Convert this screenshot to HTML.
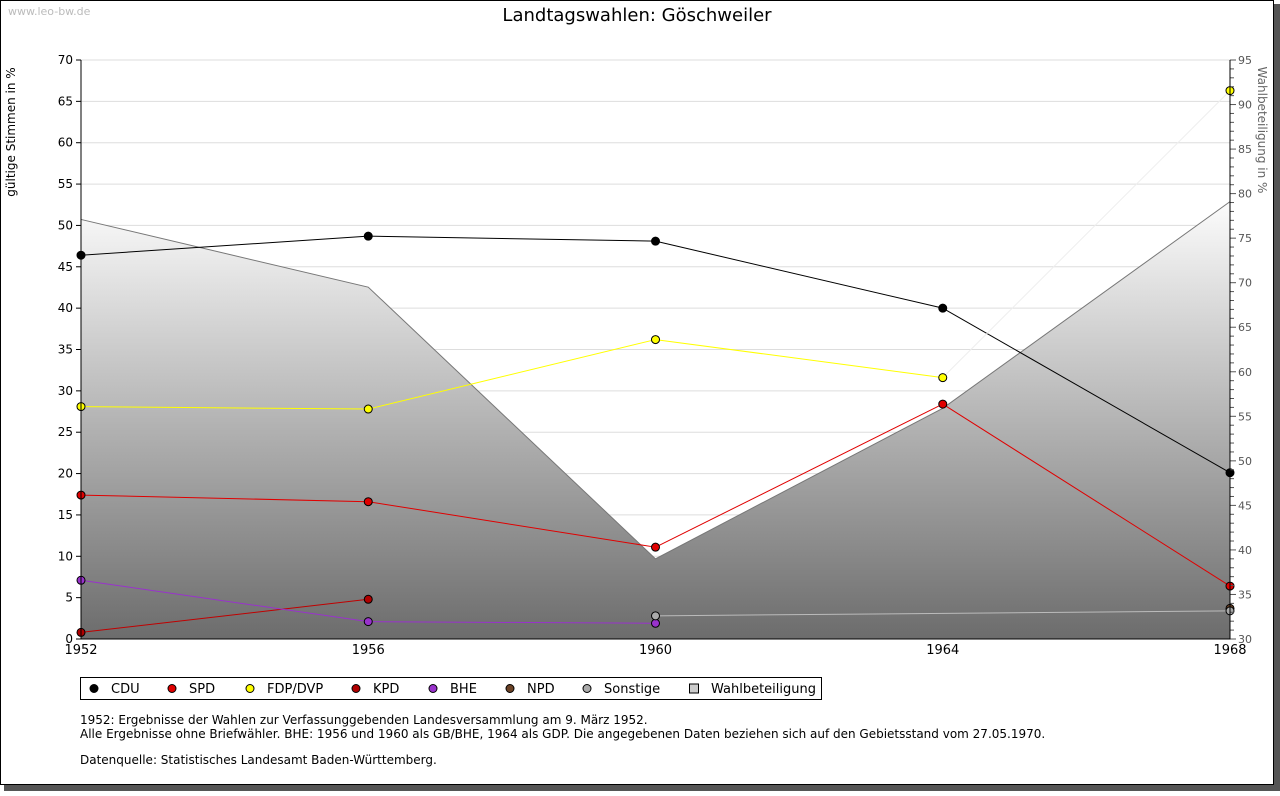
<!DOCTYPE html>
<html><head><meta charset="utf-8"><style>
body{margin:0;background:#fff;font-family:"Liberation Sans","DejaVu Sans",sans-serif}
svg text{font-family:"DejaVu Sans","Liberation Sans",sans-serif}
</style></head><body>
<svg id="c" width="1280" height="791" xmlns="http://www.w3.org/2000/svg">
<defs>
<linearGradient id="g" x1="0" y1="0" x2="0" y2="1">
<stop offset="0" stop-color="#fcfcfc"/><stop offset="1" stop-color="#6c6c6c"/></linearGradient>
</defs>
<rect x="4" y="4" width="1276" height="787" fill="#555"/>
<rect x="0.5" y="0.5" width="1273" height="784" fill="#fff" stroke="#000"/>
<text x="8" y="15" font-size="11" fill="#bbb">www.leo-bw.de</text>
<text x="637" y="21" font-size="18" text-anchor="middle">Landtagswahlen: Göschweiler</text>
<g id="grid"></g>
<g id="area"></g>
<g id="lines"></g>
<g id="axes"></g>
<g id="legend"></g>
<text x="15" y="132" font-size="12" text-anchor="middle" transform="rotate(-90 15 132)">gültige Stimmen in %</text>
<text x="1258" y="130" font-size="12" fill="#666" text-anchor="middle" transform="rotate(90 1258 130)">Wahlbeteiligung in %</text>
<text x="80" y="724" font-size="12">1952: Ergebnisse der Wahlen zur Verfassunggebenden Landesversammlung am 9. März 1952.</text>
<text x="80" y="738" font-size="12">Alle Ergebnisse ohne Briefwähler. BHE: 1956 und 1960 als GB/BHE, 1964 als GDP. Die angegebenen Daten beziehen sich auf den Gebietsstand vom 27.05.1970.</text>
<text x="80" y="764" font-size="12">Datenquelle: Statistisches Landesamt Baden-Württemberg.</text>
</svg>
<script>
const years=[1952,1956,1960,1964,1968];
const cdu=[46.4,48.7,48.1,40.0,20.1];
const spd=[17.4,16.6,11.1,28.4,6.4];
const fdp=[28.1,27.8,36.2,31.6,66.3];
const kpd=[0.8,4.8,null,null,null];
const bhe=[7.1,2.1,1.9,null,null];
const npd=[null,null,null,null,3.7];
const sonst=[null,null,2.8,null,3.4];
const turnout=[77.1,69.5,39.0,55.9,79.1];
const leftTicks=[0,5,10,15,20,25,30,35,40,45,50,55,60,65,70];
const rightTicks=[30,35,40,45,50,55,60,65,70,75,80,85,90,95];
const NS='http://www.w3.org/2000/svg';
const X0=81,X1=1230,Y0=639,Y1=60;
const xs=y=>X0+(y-1952)/(1968-1952)*(X1-X0);
const yl=v=>Y0-v/70*(Y0-Y1);
const yr=v=>Y0-(v-30)/65*(Y0-Y1);
function mk(p,t,a){const e=document.createElementNS(NS,t);for(const k in a)e.setAttribute(k,a[k]);p.appendChild(e);return e;}
const grid=document.getElementById('grid'),area=document.getElementById('area'),lines=document.getElementById('lines'),axes=document.getElementById('axes'),leg=document.getElementById('legend');
leftTicks.forEach(t=>{if(t>0){const l=mk(grid,'line',{x1:X0,x2:X1,y1:yl(t),y2:yl(t),stroke:'#ddd'});

}
const tk=mk(axes,'line',{x1:X0-5,x2:X0,y1:yl(t),y2:yl(t),stroke:'#000'});


const tx=mk(axes,'text',{x:X0-8,y:yl(t)+4,'font-size':12,'text-anchor':'end'});tx.textContent=t;

});
for(let v=30;v<=95;v++){const big=v%5==0;const tk=mk(axes,'line',{x1:X1,x2:X1+(big?6:4),y1:yr(v),y2:yr(v),stroke:'#555'});

}
rightTicks.forEach(t=>{const tx=mk(axes,'text',{x:X1+8,y:yr(t)+4,'font-size':11,fill:'#555'});tx.textContent=t;

});
let d='M'+X0+','+Y0;years.forEach((y,i)=>d+=' L'+xs(y)+','+yr(turnout[i]));d+=' L'+X1+','+Y0+'Z';
const ar=mk(area,'path',{d:d,fill:'url(#g)'});


const tl=mk(area,'polyline',{points:years.map((y,i)=>xs(y)+','+yr(turnout[i])).join(' '),fill:'none',stroke:'#777'});


const ax=mk(axes,'path',{d:`M${X0},${Y1} V${Y0} H${X1} V${Y1}`,fill:'none',stroke:'#000'});


years.forEach(y=>{const tx=mk(axes,'text',{x:xs(y),y:654,'font-size':13,'text-anchor':'middle'});tx.textContent=y;

});
const series=[['cdu',cdu,'#000','#000'],['spd',spd,'#e00000','#e00000'],['fdp',fdp,'#ffff00','#ffff00'],['kpd',kpd,'#c00000','#b00000'],['bhe',bhe,'#9932cc','#9932cc'],['npd',npd,'#5a3a20','#6b4226'],['sonstige',sonst,'#bbb','#aaa']];
series.forEach(([n,arr,lc,fc])=>{let pts=[];arr.forEach((v,i)=>{if(v!=null)pts.push([xs(years[i]),yl(v)]);});
for(let i=1;i<pts.length;i++){const l=mk(lines,'line',{x1:pts[i-1][0],y1:pts[i-1][1],x2:pts[i][0],y2:pts[i][1],stroke:(n=='fdp'&&i==pts.length-1)?'#eeeeee':lc});

}
pts.forEach(p=>{const c=mk(lines,'circle',{cx:p[0],cy:p[1],r:4,fill:fc,stroke:'#000'});

});});
mk(leg,'rect',{x:80.5,y:677.5,width:741,height:22,fill:'#fff',stroke:'#000'});
const items=[['CDU','#000',94],['SPD','#e00000',172],['FDP/DVP','#ffff00',250],['KPD','#b00000',356],['BHE','#9932cc',433],['NPD','#6b4226',510],['Sonstige','#aaa',587],['Wahlbeteiligung','#ccc',694]];
items.forEach(([t,c,x],i)=>{let m;if(i==7){m=mk(leg,'rect',{x:x-4.5,y:684,width:9,height:9,fill:c,stroke:'#000'});}else{m=mk(leg,'circle',{cx:x,cy:688.5,r:4,fill:c,stroke:'#000'});}


const tx=mk(leg,'text',{x:x+17,y:693,'font-size':13});tx.textContent=t;

});
</script>
</body></html>
